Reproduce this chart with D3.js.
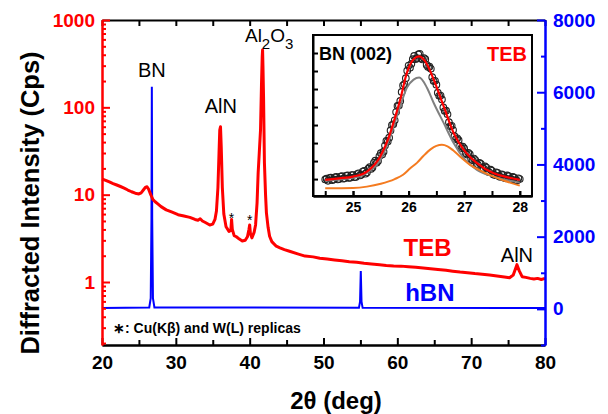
<!DOCTYPE html>
<html>
<head>
<meta charset="utf-8">
<script src="https://cdn.jsdelivr.net/npm/d3@7"></script>
<style>
body{margin:0;background:#fff;}
svg{font-family:"Liberation Sans",Arial,sans-serif;}
</style>
</head>
<body>
<div id="plot"></div>
<script>
// TEB trace (log, left axis)
var tebTheta = [20,20.5,21,21.5,22,22.5,23,23.5,24,24.5,25,25.3,25.6,25.9,26.1,26.3,26.6,26.9,27.2,27.6,28,28.7,29.5,30.3,31.1,31.9,32.6,33,33.3,33.6,34,34.6,35,35.3,35.5,35.7,35.85,35.95,36.05,36.15,36.3,36.5,36.8,37.2,37.45,37.55,37.65,37.9,38.2,38.6,39,39.4,39.7,39.9,40,40.1,40.3,40.6,40.8,41,41.15,41.3,41.47,41.6,41.7,41.75,41.8,41.88,42,42.15,42.27,42.5,42.7,43,43.6,44.1,44.7,45.4,46.5,47.5,48.6,49.5,50.5,51.5,52.5,53.5,54.5,55.5,56.5,57.6,58.5,59.5,60.5,61.5,62.5,63.5,64.5,65.5,66.6,67.5,68.5,69.5,70.5,71.5,72.5,73.5,74.5,75.2,75.7,76.2,76.5,76.9,77.4,78,78.5,79,79.5,80];
var tebCps = [15.1,14.6,14.0,13.4,12.9,12.4,11.9,11.3,10.8,10.4,10.2,10.5,11.3,12.2,12.3,11.6,10.0,8.8,8.3,7.8,7.3,6.7,6.3,5.9,5.7,5.5,5.2,5.1,5.3,5.0,4.8,4.5,4.6,5.2,6.5,12,30,55,60,35,12,6,4.3,3.8,3.9,5.2,4.0,3.4,3.3,3.1,2.95,3.0,3.3,4.0,4.5,3.6,3.2,3.7,4.5,8,17.8,30,55,180,380,454,300,133,23,10,6.2,4.2,3.34,2.9,2.57,2.46,2.35,2.25,2.1,1.98,1.94,1.87,1.83,1.79,1.75,1.71,1.68,1.64,1.61,1.58,1.55,1.53,1.52,1.5,1.48,1.45,1.42,1.39,1.36,1.33,1.3,1.28,1.25,1.23,1.2,1.17,1.14,1.12,1.2,1.58,1.35,1.15,1.13,1.1,1.08,1.1,1.07,1.1];

// hBN trace (linear, right axis)
var hbnTheta = [20,26.4,26.6,26.7,26.75,26.8,26.9,27.1,54.8,54.95,55.05,55.15,55.3,80];
var hbnCps = [25,40,300,2500,6150,2500,300,40,30,200,1050,200,30,25];

// inset: BN (002) of TEB, measured points every 0.025 deg from 24.5
var insetStart = 24.5, insetStep = 0.025;
var insetCounts = [2990,3010,2950,3030,3040,2970,2990,3050,3060,2990,3000,3070,3080,3010,3020,3090,3100,3030,3040,3110,
    3110,3050,3060,3140,3160,3100,3120,3210,3230,3150,3180,3290,3330,3280,3320,3450,3510,3450,3500,3640,
    3720,3680,3760,3930,4060,4040,4150,4350,4500,4520,4630,4860,5030,5040,5170,5420,5600,5640,5800,6010,
    6150,6090,6200,6330,6420,6330,6360,6460,6480,6350,6320,6360,6330,6170,6110,6120,6060,5830,5720,5730,
    5620,5400,5310,5320,5210,4990,4890,4900,4800,4580,4470,4480,4360,4190,4110,4130,4080,3920,3860,3900,
    3850,3720,3680,3730,3690,3560,3520,3570,3530,3420,3390,3450,3420,3310,3290,3350,3320,3210,3190,3260,
    3230,3130,3110,3190,3170,3080,3060,3130,3110,3030,3020,3100,3080,3000,2990,3060,3040,2970,2960,3020,3000];

var fitTheta = [24.5,24.75,25,25.25,25.49,25.67,25.75,25.85,25.97,26.09,26.19,26.33,26.45,26.63,26.81,26.99,27.23,27.53,27.75,28];
var fitSum = [2977,3020,3069,3209,3628,4281,4680,5211,5957,6328,6404,6189,5770,5024,4281,3815,3443,3164,3060,2977];
var fitP1 = [2949,2990,3033,3172,3535,4178,4560,5024,5538,5760,5817,5538,5119,4560,4002,3583,3256,3069,2980,2901];
var p2Theta = [24.5,25,25.25,25.5,25.75,25.9,26.03,26.15,26.27,26.4,26.5,26.6,26.7,26.8,26.95,27.1,27.3,27.53,27.75,28];
var fitP2 = [2745,2753,2790,2870,3000,3120,3300,3450,3647,3830,3920,3954,3910,3800,3590,3400,3230,3069,2940,2818];

var xTicks = [20,30,40,50,60,70,80];
var yLogTicks = [1,10,100,1000];
var yLinTicks = [0,2000,4000,6000,8000];
var insetXTicks = [25,26,27,28];

var W = 608, H = 414;
var margin = {t:20, r:63, b:69, l:102};
var width = W - margin.l - margin.r, height = H - margin.t - margin.b;

var svg = d3.select('#plot').append('svg').attr('width', W).attr('height', H);
var plot = svg.append('g').attr('transform', 'translate(' + margin.l + ',' + margin.t + ')');

var x = d3.scaleLinear().domain([20, 80]).range([0, width]);
var yL = d3.scaleLog().domain([0.19, 1000]).range([height, 0]);
var yR = d3.scaleLinear().domain([-1000, 8000]).range([height, 0]);

// traces
plot.append('path')
    .datum(hbnTheta.map(function(t, i){ return [t, hbnCps[i]]; }))
    .attr('fill', 'none').attr('stroke', '#0000ff').attr('stroke-width', 2)
    .attr('d', d3.line().x(function(d){ return x(d[0]); }).y(function(d){ return yR(d[1]); }));

plot.append('path')
    .datum(tebTheta.map(function(t, i){ return [t, tebCps[i]]; }))
    .attr('fill', 'none').attr('stroke', '#ff0000').attr('stroke-width', 3).attr('stroke-linejoin', 'round')
    .attr('d', d3.line().x(function(d){ return x(d[0]); }).y(function(d){ return yL(d[1]); }));

// axes
function style(g, color, size){
    g.selectAll('path').attr('stroke', color).attr('stroke-width', 2);
    g.selectAll('line').attr('stroke', color).attr('stroke-width', 2);
    g.selectAll('text').attr('fill', color).attr('font-size', size).attr('font-weight', 'bold')
        .attr('font-family', '"Liberation Sans",Arial,sans-serif');
}

var fives = d3.range(20, 81, 5);
plot.append('g').attr('transform', 'translate(0,' + height + ')')
    .call(d3.axisBottom(x).tickValues(fives.filter(function(d){ return d % 10; })).tickSize(-5).tickSizeOuter(0).tickFormat(''))
    .call(style, '#000', 18);
plot.append('g').attr('transform', 'translate(0,' + height + ')')
    .call(d3.axisBottom(x).tickValues(xTicks).tickSize(-7).tickSizeOuter(0).tickPadding(11))
    .call(style, '#000', 19);
plot.append('g')
    .call(d3.axisTop(x).tickValues(fives).tickSize(-6).tickSizeOuter(0).tickFormat(''))
    .call(style, '#000', 18);

var minorLog = yL.ticks().filter(function(d){ return yLogTicks.indexOf(d) < 0; });
plot.append('g')
    .call(d3.axisLeft(yL).tickValues(minorLog).tickSize(-4).tickSizeOuter(0).tickFormat(''))
    .call(style, '#ff0000', 18);
plot.append('g')
    .call(d3.axisLeft(yL).tickValues(yLogTicks).tickSize(-8).tickSizeOuter(0).tickPadding(7).tickFormat(d3.format('d')))
    .call(style, '#ff0000', 19);

plot.append('g').attr('transform', 'translate(' + width + ',0)')
    .call(d3.axisRight(yR).tickValues([-1000,1000,3000,5000,7000]).tickSize(-4).tickSizeOuter(0).tickFormat(''))
    .call(style, '#0000ff', 18);
plot.append('g').attr('transform', 'translate(' + width + ',0)')
    .call(d3.axisRight(yR).tickValues(yLinTicks).tickSize(-8).tickSizeOuter(0).tickPadding(8).tickFormat(d3.format('d')))
    .call(style, '#0000ff', 19);

// axis titles
svg.append('text').attr('transform', 'translate(39,' + 203 + ') rotate(-90)')
    .attr('text-anchor', 'middle').attr('font-size', 25.5).attr('font-weight', 'bold').attr('fill', '#000')
    .text('Diffracted Intensity (Cps)');
svg.append('text').attr('x', 336).attr('y', 409)
    .attr('text-anchor', 'middle').attr('font-size', 24).attr('font-weight', 'bold').attr('fill', '#000')
    .text('2θ (deg)');

// peak labels
function label(tx, ty, s, size, color, weight, anchor){
    return plot.append('text').attr('x', tx).attr('y', ty).attr('font-size', size)
        .attr('fill', color).attr('font-weight', weight || 'normal').attr('text-anchor', anchor || 'middle').text(s);
}
label(x(26.75), 57, 'BN', 20, '#000');
label(x(36.1), 93, 'AlN', 20, '#000');
var al = plot.append('text').attr('x', x(41.8) - 18).attr('y', 22).attr('font-size', 19).attr('fill', '#000');
al.append('tspan').text('Al');
al.append('tspan').attr('dy', 7).attr('font-size', 15).text('2');
al.append('tspan').attr('dy', -7).text('O');
al.append('tspan').attr('dy', 7).attr('font-size', 15).text('3');
label(x(37.55), 203, '*', 14, '#000');
label(x(40), 205, '*', 14, '#000');
label(x(76.2), 242, 'AlN', 20, '#000');
label(x(64.1), 236, 'TEB', 24, '#ff0000', 'bold');
label(x(64.4), 281, 'hBN', 24, '#0000ff', 'bold');
label(11, 313, '∗: Cu(Kβ) and W(L) replicas', 14, '#000', 'bold', 'start');

// inset
var ins = {x:313, y:35, w:219, h:161};
var ig = svg.append('g').attr('transform', 'translate(' + ins.x + ',' + ins.y + ')');
ig.append('rect').attr('width', ins.w).attr('height', ins.h).attr('fill', '#fff');

var ix = d3.scaleLinear().domain([24.28, 28.22]).range([0, ins.w]);
var iy = d3.scaleLinear().domain([2530, 7000]).range([ins.h, 0]);
var iline = d3.line().curve(d3.curveMonotoneX).x(function(d){ return ix(d[0]); }).y(function(d){ return iy(d[1]); });

ig.selectAll('circle').data(insetCounts.map(function(c, i){ return [insetStart + i * insetStep, c]; }))
    .enter().append('circle')
    .attr('cx', function(d){ return ix(d[0]); }).attr('cy', function(d){ return iy(d[1]); })
    .attr('r', 3.3).attr('fill', 'none').attr('stroke', '#222').attr('stroke-width', 1.1);

ig.append('path').datum(fitTheta.map(function(t, i){ return [t, fitP1[i]]; }))
    .attr('fill', 'none').attr('stroke', '#808080').attr('stroke-width', 2).attr('d', iline);
ig.append('path').datum(p2Theta.map(function(t, i){ return [t, fitP2[i]]; }))
    .attr('fill', 'none').attr('stroke', '#f47b20').attr('stroke-width', 2).attr('d', iline);
ig.append('path').datum(fitTheta.map(function(t, i){ return [t, fitSum[i]]; }))
    .attr('fill', 'none').attr('stroke', '#ff0000').attr('stroke-width', 2.2).attr('d', iline);

ig.append('g').attr('transform', 'translate(0,' + ins.h + ')')
    .call(d3.axisBottom(ix).tickValues(d3.range(24.5, 28.01, 0.5)).tickSize(-5).tickSizeOuter(0).tickFormat(''))
    .call(style, '#000', 13);
ig.append('g').attr('transform', 'translate(0,' + ins.h + ')')
    .call(d3.axisBottom(ix).tickValues(insetXTicks).tickSize(-5).tickSizeOuter(0).tickPadding(6).tickFormat(d3.format('d')))
    .call(style, '#000', 14);
ig.append('g')
    .call(d3.axisLeft(iy).tickValues(d3.range(3000, 7000, 500)).tickSize(-5).tickSizeOuter(0).tickFormat(''))
    .call(style, '#000', 13);
ig.append('rect').attr('width', ins.w).attr('height', ins.h)
    .attr('fill', 'none').attr('stroke', '#000').attr('stroke-width', 2);

ig.append('text').attr('x', 6).attr('y', 25).attr('font-size', 18).attr('font-weight', 'bold').attr('fill', '#000').text('BN (002)');
ig.append('text').attr('x', ins.w - 5).attr('y', 26).attr('text-anchor', 'end').attr('font-size', 20)
    .attr('font-weight', 'bold').attr('fill', '#ff0000').text('TEB');
</script>
</body>
</html>
